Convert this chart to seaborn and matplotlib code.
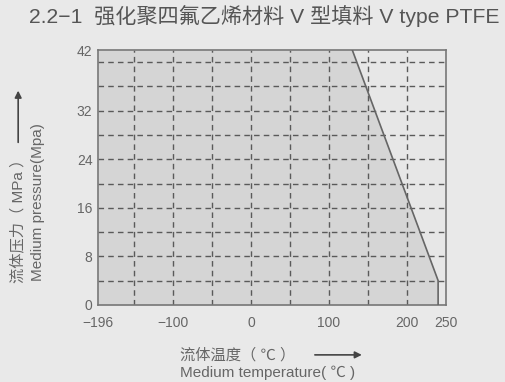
import numpy as np
import pandas as pd
import seaborn as sns
import matplotlib.pyplot as plt

# boundary of the allowed working area (temperature in C, pressure in MPa)
boundary_temp = [-196, 130, 240, 240]
boundary_pressure = [42, 42, 4, 0]

x_ticks = [-196, -100, 0, 100, 200, 250]
y_ticks = [0, 8, 16, 24, 32, 42]
x_grid = [-150, -100, -50, 0, 50, 100, 150, 200]
y_grid = [4, 8, 12, 16, 20, 24, 28, 32, 36, 40]

title = "2.2−1  强化聚四氟乙烯材料 V 型填料 V type PTFE"
ylabel_cn = "流体压力（ MPa ）"
ylabel_en = "Medium pressure(Mpa)"
xlabel_cn = "流体温度（ ℃ ）"
xlabel_en = "Medium temperature( ℃ )"

bg = "#e9e9e9"
sns.set_style("white")
plt.rcParams['font.family'] = ['Liberation Sans', 'Noto Sans CJK SC', 'DejaVu Sans']

df = pd.DataFrame({"temp": boundary_temp, "pressure": boundary_pressure})

fig = plt.figure(figsize=(5.05, 3.82), dpi=100, facecolor=bg)
ax = fig.add_axes([0.194, 0.202, 0.689, 0.667])
ax.set_facecolor("#e7e7e7")

# shaded working region
ax.fill_between(df["temp"], 0, df["pressure"], color="#d5d5d5", zorder=1, linewidth=0)
sns.lineplot(data=df.iloc[1:], x="temp", y="pressure", color="#666666", lw=1.2,
             sort=False, estimator=None, errorbar=None, ax=ax, zorder=3)

for gx in x_grid:
    ax.axvline(gx, color="#5a5a5a", lw=1.0, ls=(0, (4, 3)), zorder=2)
for gy in y_grid:
    ax.axhline(gy, color="#5a5a5a", lw=1.0, ls=(0, (4, 3)), zorder=2)

ax.set_xlim(-196, 250)
ax.set_ylim(0, 42)
ax.set_xticks(x_ticks)
ax.set_yticks(y_ticks)
ax.set_xticklabels([str(t).replace("-", "−") for t in x_ticks])
ax.tick_params(axis="both", labelsize=10, colors="#666666", length=2, width=0.8)
ax.tick_params(axis="x", pad=6)
ax.tick_params(axis="y", pad=2)
ax.set_xlabel("")
ax.set_ylabel("")
for s in ax.spines.values():
    s.set_color("#777777")
    s.set_linewidth(1.2)

fig.text(0.058, 0.958, title, fontsize=15.2, color="#555555", va="center")

# y axis labels with arrow
fig.text(0.036, 0.432, ylabel_cn, rotation=90, fontsize=11, color="#666666", ha="center", va="center")
fig.text(0.076, 0.471, ylabel_en, rotation=90, fontsize=11, color="#666666", ha="center", va="center")
fig.add_artist(plt.Annotation("", xy=(0.036, 0.77), xytext=(0.036, 0.62), xycoords="figure fraction",
                              arrowprops=dict(arrowstyle="-|>", color="#444444", lw=1.2)))

# x axis labels with arrow
fig.text(0.356, 0.071, xlabel_cn, fontsize=11, color="#666666", ha="left", va="center")
fig.text(0.356, 0.024, xlabel_en, fontsize=11, color="#666666", ha="left", va="center")
fig.add_artist(plt.Annotation("", xy=(0.722, 0.071), xytext=(0.618, 0.071), xycoords="figure fraction",
                              arrowprops=dict(arrowstyle="-|>", color="#444444", lw=1.2)))

fig.savefig("out.png", dpi=100, facecolor=bg)
